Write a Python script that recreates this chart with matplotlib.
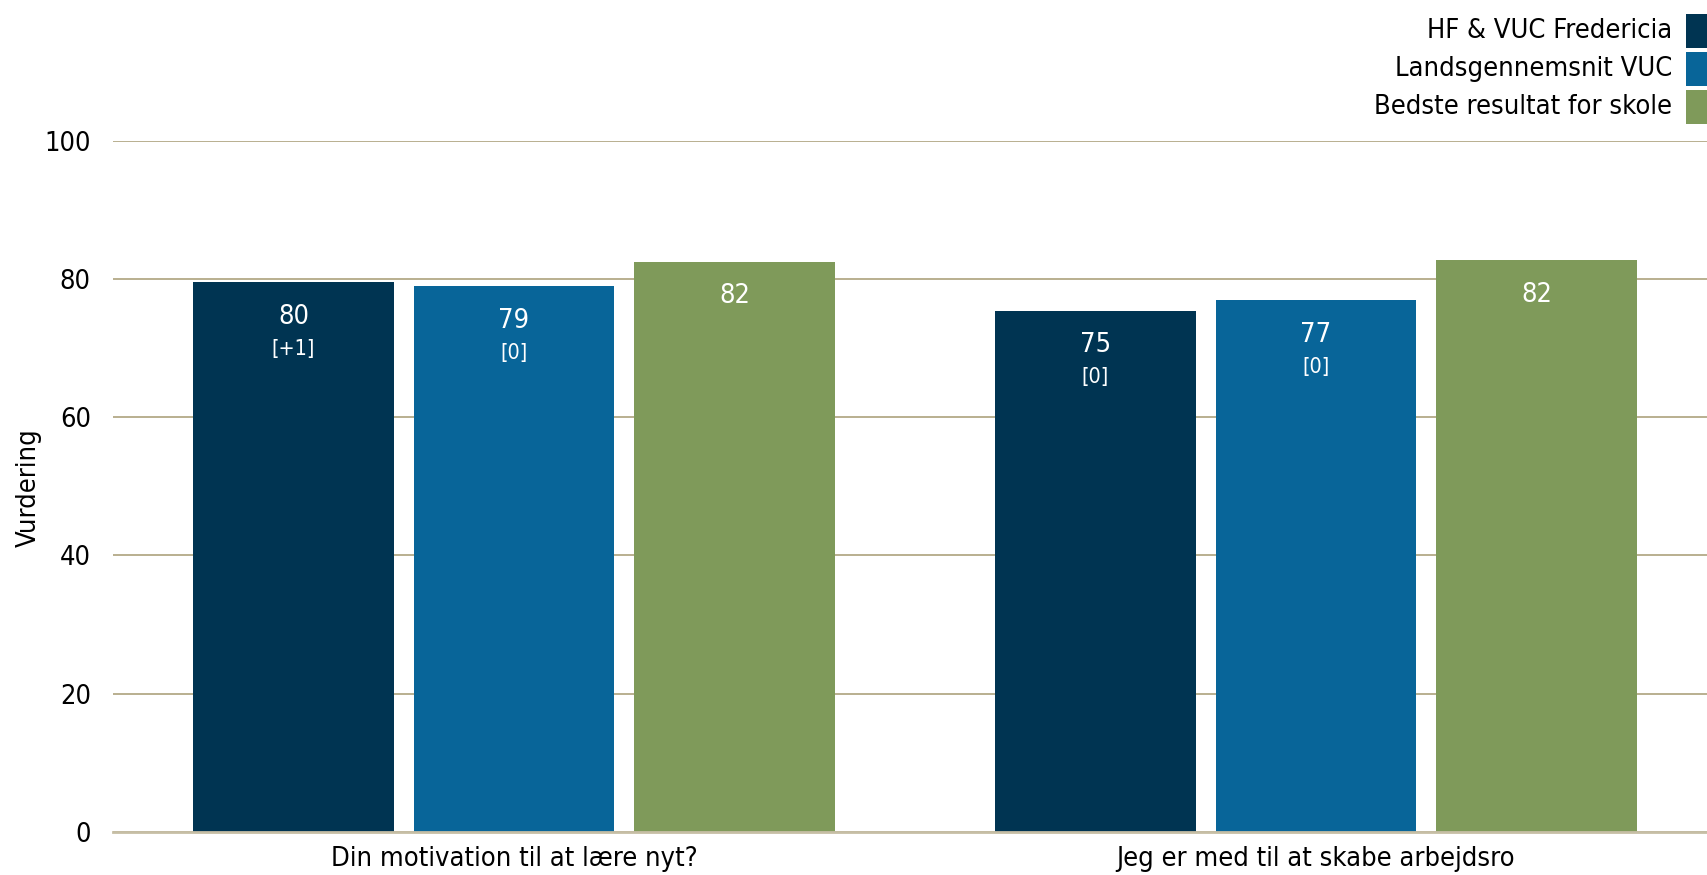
import matplotlib
matplotlib.use("Agg")
import matplotlib.pyplot as plt
from matplotlib.patches import Rectangle
import numpy as np

plt.rcParams["font.family"] = ["DejaVu Sans"]
plt.rcParams["font.stretch"] = "condensed"

# data
categories = ["Din motivation til at lære nyt?", "Jeg er med til at skabe arbejdsro"]
series = ["HF & VUC Fredericia", "Landsgennemsnit VUC", "Bedste resultat for skole"]
school = [79.5, 75.4]
national = [78.9, 76.9]
best = [82.5, 82.7]
labels_school = ["80", "75"]
labels_national = ["79", "77"]
labels_best = ["82", "82"]
changes_school = ["[+1]", "[0]"]
changes_national = ["[0]", "[0]"]
changes_best = [None, None]

colors = ["#003452", "#086599", "#7f9a5a"]
grid_color = "#b3a987"

W, H = 1708, 875
fig = plt.figure(figsize=(W / 100, H / 100), dpi=100)
ax = fig.add_axes([113 / W, 43 / H, (W - 113) / W, 691.4 / H])

x = np.arange(len(categories))
width = 0.25
step = 0.275

values = [school, national, best]
labels = [labels_school, labels_national, labels_best]
changes = [changes_school, changes_national, changes_best]

for i, (vals, col) in enumerate(zip(values, colors)):
    pos = x + (i - 1) * step
    ax.bar(pos, vals, width=width, color=col, zorder=3)
    for px, v, lab, ch in zip(pos, vals, labels[i], changes[i]):
        ax.annotate(lab, (px, v), xytext=(0, -25), textcoords="offset points",
                    ha="center", va="center", color="white", fontsize=19.5, zorder=4)
        if ch:
            ax.annotate(ch, (px, v), xytext=(0, -48), textcoords="offset points",
                        ha="center", va="center", color="white", fontsize=15.5, zorder=4)

ax.set_xlim(-0.5, 1.489)
ax.set_ylim(0, 100)
ax.set_yticks([0, 20, 40, 60, 80, 100])
ax.set_xticks(x)
ax.set_xticklabels(categories)
ax.tick_params(axis="both", length=0, labelsize=19.5)
ax.tick_params(axis="y", pad=16)
ax.tick_params(axis="x", pad=10)
ax.yaxis.grid(True, color=grid_color, lw=1.3, zorder=0)
for s in ["top", "right", "left"]:
    ax.spines[s].set_visible(False)
ax.spines["bottom"].set_color("#c6bea5")
ax.spines["bottom"].set_linewidth(2)
ax.spines["bottom"].set_zorder(5)

fig.text(29 / W, 1 - 488 / H, "Vurdering", rotation=90,
         ha="center", va="center", fontsize=19.5)

# legend: text right-aligned, swatch on the right edge
leg_y = [31, 69, 107]
for name, col, yc in zip(series, colors, leg_y):
    fig.text(1672 / W, 1 - yc / H, name, ha="right", va="center", fontsize=19.5)
    fig.add_artist(Rectangle((1686 / W, 1 - (yc + 17) / H), 34 / W, 34 / H,
                             transform=fig.transFigure, color=col, lw=0))

fig.savefig("out.png", dpi=100)
